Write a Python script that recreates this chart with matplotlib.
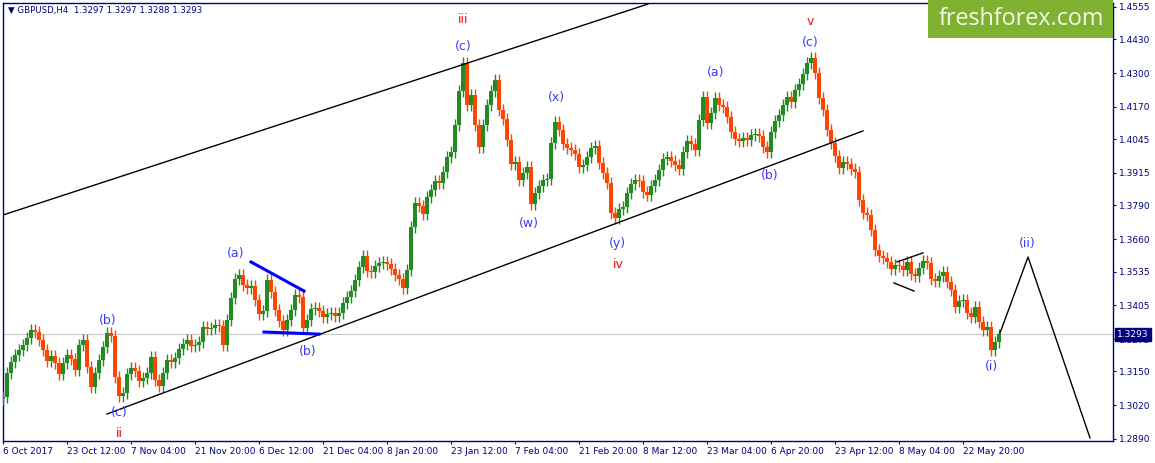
import numpy as np
import matplotlib
matplotlib.use('Agg')
import matplotlib.pyplot as plt
from matplotlib.patches import Rectangle

# GBPUSD H4 - closes, one candle every 4 bars
closes = [
    1.3052, 1.3144, 1.3186, 1.3213, 1.3233, 1.3252, 1.3279, 1.3310, 1.3302, 1.3271,
    1.3233, 1.3190, 1.3210, 1.3183, 1.3140, 1.3183, 1.3213, 1.3198, 1.3156, 1.3252,
    1.3271, 1.3167, 1.3090, 1.3144, 1.3194, 1.3244, 1.3298, 1.3287, 1.3129, 1.3055,
    1.3067, 1.3140, 1.3163, 1.3152, 1.3113, 1.3125, 1.3144, 1.3206, 1.3117, 1.3094,
    1.3144, 1.3194, 1.3186, 1.3202, 1.3237, 1.3256, 1.3271, 1.3248, 1.3252, 1.3264,
    1.3321, 1.3314, 1.3318, 1.3329, 1.3325, 1.3252, 1.3348, 1.3433, 1.3506, 1.3522,
    1.3483, 1.3472, 1.3479, 1.3425, 1.3371, 1.3383, 1.3502, 1.3456, 1.3387, 1.3344,
    1.3310, 1.3348, 1.3387, 1.3445, 1.3437, 1.3318, 1.3348, 1.3391, 1.3395, 1.3383,
    1.3360, 1.3371, 1.3375, 1.3364, 1.3375, 1.3414, 1.3437, 1.3460, 1.3502, 1.3553,
    1.3595, 1.3537, 1.3533, 1.3556, 1.3568, 1.3572, 1.3564, 1.3545, 1.3522, 1.3506,
    1.3472, 1.3541, 1.3707, 1.3799, 1.3788, 1.3757, 1.3822, 1.3849, 1.3884, 1.3876,
    1.3919, 1.3977, 1.3996, 1.4100, 1.4231, 1.4339, 1.4177, 1.4216, 1.4100, 1.4015,
    1.4100, 1.4177, 1.4231, 1.4273, 1.4158, 1.4123, 1.4042, 1.3950, 1.3957, 1.3888,
    1.3915, 1.3938, 1.3795, 1.3838, 1.3865, 1.3888, 1.3892, 1.4031, 1.4111, 1.4081,
    1.4027, 1.4011, 1.4004, 1.3988, 1.3938, 1.3946, 1.3977, 1.4011, 1.4019, 1.3953,
    1.3915, 1.3876, 1.3761, 1.3741, 1.3776, 1.3784, 1.3838, 1.3872, 1.3888, 1.3884,
    1.3842, 1.3830, 1.3865, 1.3888, 1.3926, 1.3969, 1.3977, 1.3961, 1.3946, 1.3930,
    1.3996, 1.4038, 1.4027, 1.4004, 1.4119, 1.4208, 1.4108, 1.4146, 1.4204, 1.4177,
    1.4169, 1.4131, 1.4073, 1.4046, 1.4038, 1.4050, 1.4042, 1.4061, 1.4065, 1.4058,
    1.4015, 1.3996, 1.4073, 1.4115, 1.4138, 1.4177, 1.4208, 1.4189, 1.4235, 1.4258,
    1.4296, 1.4339, 1.4358, 1.4300, 1.4204, 1.4158, 1.4081, 1.4031, 1.3980, 1.3934,
    1.3957, 1.3950, 1.3930, 1.3919, 1.3811, 1.3761, 1.3753, 1.3695, 1.3618, 1.3595,
    1.3587, 1.3572, 1.3545, 1.3560, 1.3556, 1.3541, 1.3572, 1.3526, 1.3518, 1.3549,
    1.3576, 1.3568, 1.3506, 1.3499, 1.3518, 1.3533, 1.3495, 1.3464, 1.3398, 1.3422,
    1.3425, 1.3375, 1.3360, 1.3398, 1.3341, 1.3310, 1.3321, 1.3233, 1.3264, 1.3293,
]
bar_step = 4
last_price = 1.3293
header = '\u25bc GBPUSD,H4  1.3297 1.3297 1.3288 1.3293'

# time axis: one label every 64 bars
date_ticks = np.arange(0, 961, 64)
date_labels = ['6 Oct 2017', '23 Oct 12:00', '7 Nov 04:00', '21 Nov 20:00',
               '6 Dec 12:00', '21 Dec 04:00', '8 Jan 20:00', '23 Jan 12:00',
               '7 Feb 04:00', '21 Feb 20:00', '8 Mar 12:00', '23 Mar 04:00',
               '6 Apr 20:00', '23 Apr 12:00', '8 May 04:00', '22 May 20:00']
price_ticks = [1.4555, 1.4430, 1.4300, 1.4170, 1.4045, 1.3915, 1.3790,
               1.3660, 1.3535, 1.3405, 1.3275, 1.3150, 1.3020, 1.2890]

# drawn lines (bar index, price)
upper_channel = ([0, 645], [1.3753, 1.4566])
lower_channel = ([104, 860], [1.2986, 1.4077])
tri_top = ([248, 301], [1.3572, 1.3460])
tri_bottom = ([261, 316], [1.3302, 1.3294])
flag_top = ([894, 920], [1.3572, 1.3607])
flag_bottom = ([891, 911], [1.3491, 1.3460])
projection = ([997, 1025, 1087], [1.3298, 1.3591, 1.2894])

# wave labels
BLUE = '#3b3bf5'
RED = '#f01010'
wave_text = ['(i)', '(b)', '(c)', 'ii', '(a)', '(b)', 'iii', '(c)', '(w)', '(x)',
             '(y)', 'iv', '(a)', '(b)', 'v', '(c)', '(i)', '(ii)']
wave_bar = [-9, 105, 116, 116, 233, 305, 460, 460, 526, 553,
            614, 615, 713, 767, 807, 807, 988, 1024]
wave_price = [1.2978, 1.3348, 1.2990, 1.2909, 1.3603, 1.3225, 1.4505, 1.4401, 1.3722, 1.4204,
              1.3645, 1.3564, 1.4304, 1.3907, 1.4497, 1.4416, 1.3171, 1.3645]
wave_color = [BLUE, BLUE, BLUE, '#cc1010', BLUE, BLUE, RED, BLUE, BLUE, BLUE,
              BLUE, RED, BLUE, BLUE, RED, BLUE, BLUE, BLUE]

NAVY = '#000080'
W, H = 1155, 463
fig = plt.figure(figsize=(W / 100, H / 100), dpi=100)
ax = fig.add_axes([3 / W, 22 / H, 1110 / W, 438 / H])

# candles
c = np.array(closes)
o = np.r_[c[0] - 0.0010, c[:-1]]
x = np.arange(len(c)) * bar_step
up = c >= o
cols = np.where(up, '#228b22', '#ff4500')
lo = np.minimum(o, c)
hi = np.maximum(o, c)
ax.vlines(x, lo - 0.0022, hi + 0.0022, colors=cols, lw=1, zorder=3)
ax.bar(x, np.maximum(hi - lo, 0.0005), bottom=lo, width=3.4, color=cols, lw=0, zorder=3)

ax.axhline(last_price, color='#c8c8c8', lw=0.8, zorder=1)

for xs, ys in [upper_channel, lower_channel, flag_top, flag_bottom, projection]:
    ax.plot(xs, ys, color='black', lw=1, zorder=4)
for xs, ys in [tri_top, tri_bottom]:
    ax.plot(xs, ys, color='#0000ff', lw=2.2, zorder=4)

for t, b, p, col in zip(wave_text, wave_bar, wave_price, wave_color):
    ax.text(b, p, t, color=col, fontsize=9, ha='center', va='center', zorder=5, clip_on=True)

ax.set_xlim(0, 1110)
ax.set_ylim(1.2882, 1.4570)

ax.yaxis.tick_right()
ax.set_yticks(price_ticks)
ax.set_yticklabels([f'{v:.4f}' for v in price_ticks])
ax.set_xticks(date_ticks)
ax.set_xticklabels(date_labels)
plt.setp(ax.get_xticklabels(), ha='left')
ax.tick_params(axis='both', direction='out', length=2.5, width=0.8, color=NAVY,
               labelsize=6.5, labelcolor=NAVY, pad=2)
for s in ax.spines.values():
    s.set_color(NAVY)
    s.set_linewidth(1)

# current price tag on the price scale
ax.annotate(f'{last_price:.4f}', xy=(1.0, last_price), xycoords=('axes fraction', 'data'),
            xytext=(3, 0), textcoords='offset points', ha='left', va='center',
            fontsize=6.5, color='white', annotation_clip=False, zorder=10,
            bbox=dict(boxstyle='square,pad=0.25', fc=NAVY, ec=NAVY))

fig.text(8 / W, 1 - 10 / H, header, color=NAVY, fontsize=6.2, va='center', ha='left')

# logo
fig.patches.append(Rectangle((928 / W, 1 - 38 / H), 185 / W, 38 / H,
                             transform=fig.transFigure, fc='#80b232', ec='none', zorder=5))
fig.text(1021 / W, 1 - 19 / H, 'freshforex.com', color='#f4f8e8', fontsize=16.8,
         family='Open Sans', ha='center', va='center', zorder=6)

fig.savefig('out.png', dpi=100, facecolor='white')
